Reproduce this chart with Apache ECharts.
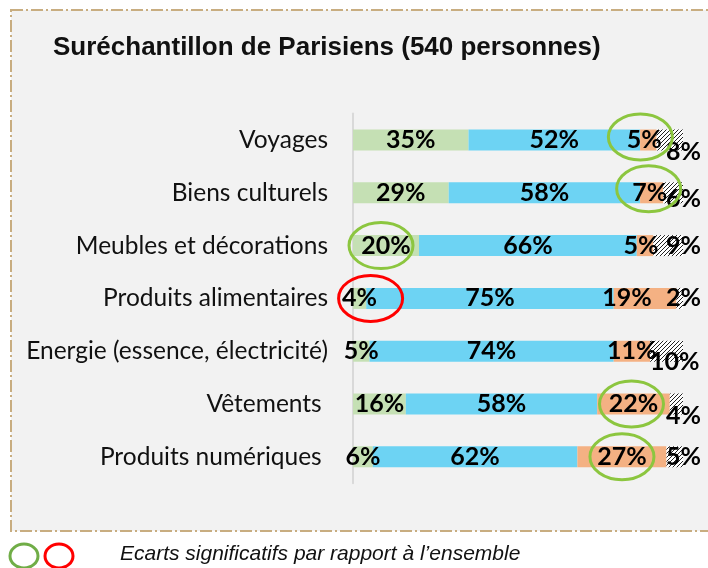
<!DOCTYPE html>
<html>
<head>
<meta charset="utf-8">
<script src="https://cdn.jsdelivr.net/npm/echarts@6/dist/echarts.min.js"></script>
<style>
  html, body { margin: 0; padding: 0; background: #fff; }
  #chart { width: 708px; height: 568px; }
</style>
</head>
<body>
<div id="chart"></div>
<script>
// données
var categories = ['Voyages', 'Biens culturels', 'Meubles et décorations', 'Produits alimentaires',
  'Energie (essence, électricité)', 'Vêtements ', 'Produits numériques '];
var part1 = [35, 29, 20, 4, 5, 16, 6];
var part2 = [52, 58, 66, 75, 74, 58, 62];
var part3 = [5, 7, 5, 19, 11, 22, 27];
var part4 = [8, 6, 9, 2, 10, 4, 5];

// écarts significatifs : [catégorie, segment, couleur]
var ecarts = [
  [0, 2, 'green'], [1, 2, 'green'], [2, 0, 'green'], [3, 0, 'red'],
  [5, 2, 'green'], [6, 2, 'green']
];
// petit decalage de chaque ellipse (dessinees a la main dans l'original)
var ecartShift = [[-8, -3], [-3, -4], [-5, 0], [11, 0], [-2, 0], [0, 0]];

var GREEN = '#8cc63f';
var RED = '#ff0000';
var labelFont = 'Lato';

// decalage des etiquettes (placees a la main dans l'original)
var nudge3 = [[-4, 0], [-2, 0], [-4, 0], [-18, 0], [0, 0], [0, 0], [0, 0]];
var nudge4 = [[0, 12], [0, 6], [0, 0], [0, 0], [-16, 11], [0, 12], [0, 0]];

function hatch() {
  var c = document.createElement('canvas');
  c.width = 4; c.height = 4;
  var ctx = c.getContext('2d');
  ctx.fillStyle = '#ffffff';
  ctx.fillRect(0, 0, 4, 4);
  ctx.fillStyle = '#222';
  for (var i = 0; i < 4; i++) {
    ctx.fillRect(i, 3 - i, 1, 1);
  }
  return c;
}

var chart = echarts.init(document.getElementById('chart'));

function lbl(extra) {
  var o = {
    show: true,
    position: 'inside',
    color: '#000',
    fontSize: 25,
    fontWeight: 'bold',
    fontFamily: labelFont,
    formatter: '{c}%'
  };
  for (var k in extra) o[k] = extra[k];
  return o;
}

var data3 = part3.map(function (v, i) {
  return { value: v, label: lbl({ offset: nudge3[i] }) };
});
var data4 = part4.map(function (v, i) {
  return {
    value: v,
    label: lbl({ position: 'right', distance: 5, offset: [nudge4[i][0] - 22, nudge4[i][1]] })
  };
});

chart.setOption({
  backgroundColor: '#ffffff',
  animation: false,
  title: {
    text: 'Suréchantillon de Parisiens (540 personnes)',
    left: 48,
    top: 30,
    textStyle: {
      fontFamily: 'Liberation Sans',
      fontWeight: 'bold',
      fontSize: 26,
      color: '#111'
    }
  },
  grid: {
    left: 353,
    right: 25,
    top: 113.6,
    height: 369.6
  },
  xAxis: {
    type: 'value',
    min: 0,
    max: 100,
    show: false
  },
  yAxis: {
    type: 'category',
    inverse: true,
    data: categories,
    axisTick: { show: false },
    axisLine: { lineStyle: { color: '#d9d9d9', width: 2 } },
    axisLabel: {
      color: '#111',
      fontSize: 24.5,
      fontFamily: labelFont,
      margin: 25
    }
  },
  series: [
    { name: 's1', type: 'bar', stack: 't', barWidth: 21, data: part1,
      itemStyle: { color: '#c5e0b4' }, label: lbl({}) },
    { name: 's2', type: 'bar', stack: 't', barWidth: 21, data: part2,
      itemStyle: { color: '#6dd3f3' }, label: lbl({}) },
    { name: 's3', type: 'bar', stack: 't', barWidth: 21, data: data3,
      itemStyle: { color: '#f4b183' } },
    { name: 's4', type: 'bar', stack: 't', barWidth: 21, data: data4,
      itemStyle: { color: { image: hatch(), repeat: 'repeat' } } }
  ]
});

// cadre, ellipses et legende
var parts = [part1, part2, part3, part4];
var graphics = [{
  type: 'rect',
  z: -10,
  silent: true,
  shape: { x: 11, y: 10, width: 760, height: 521 },
  style: { fill: '#f2f2f2', stroke: '#c8ad80', lineWidth: 2, lineDash: [12, 3, 2, 3] }
}];

ecarts.forEach(function (e, j) {
  var start = 0;
  for (var s = 0; s < e[1]; s++) start += parts[s][e[0]];
  var mid = start + parts[e[1]][e[0]] / 2;
  var p = chart.convertToPixel({ gridIndex: 0 }, [mid, e[0]]);
  graphics.push({
    type: 'ellipse',
    z: 100,
    silent: true,
    shape: { cx: p[0] + ecartShift[j][0], cy: p[1] + ecartShift[j][1], rx: 32, ry: 23 },
    style: { fill: 'none', stroke: e[2] === 'red' ? RED : GREEN, lineWidth: 3 }
  });
});

graphics.push(
  { type: 'ellipse', z: 100, shape: { cx: 24, cy: 556, rx: 14, ry: 12 },
    style: { fill: 'none', stroke: '#70ad47', lineWidth: 3 } },
  { type: 'ellipse', z: 100, shape: { cx: 59, cy: 556, rx: 14, ry: 12 },
    style: { fill: 'none', stroke: RED, lineWidth: 3 } },
  { type: 'text', z: 100, x: 120, y: 554,
    style: { text: 'Ecarts significatifs par rapport à l’ensemble', fill: '#111',
      font: 'italic 21px "Liberation Sans"', verticalAlign: 'middle' } }
);

chart.setOption({ graphic: graphics });
</script>
</body>
</html>
